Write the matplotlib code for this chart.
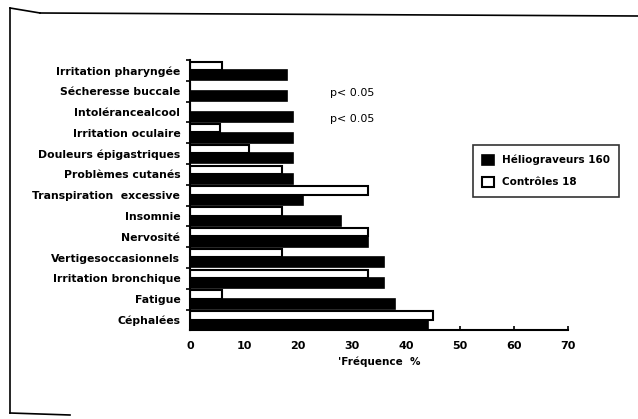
import numpy as np
import matplotlib
matplotlib.use("Agg")
from matplotlib import pyplot as plt
from matplotlib.lines import Line2D

# symptoms, bottom to top
symptoms = ["Céphalées", "Fatigue", "Irritation bronchique", "Vertigesoccasionnels",
            "Nervosité", "Insomnie", "Transpiration  excessive", "Problèmes cutanés",
            "Douleurs épigastriques", "Irritation oculaire", "Intolérancealcool",
            "Sécheresse buccale", "Irritation pharyngée"]
heliograveurs = [44, 38, 36, 36, 33, 28, 21, 19, 19, 19, 19, 18, 18]
controles = [45, 6, 33, 17, 33, 17, 33, 17, 11, 5.5, 0, 0, 6]
xticks = [0, 10, 20, 30, 40, 50, 60, 70]

plt.rcParams['font.family'] = ['DejaVu Sans']

fig = plt.figure(figsize=(6.38, 4.19), dpi=100)
ax = fig.add_axes([190/638, 1 - 330/419, 378/638, 270/419])

y = np.arange(len(symptoms))
hb = ax.barh(y - 0.23, heliograveurs, height=0.48, color='black', edgecolor='black', linewidth=1.2)
hc = ax.barh(y + 0.22, controles, height=0.40, color='white', edgecolor='black', linewidth=1.5)

ax.set_xlim(0, 70)
ax.set_ylim(-0.48, len(symptoms) - 0.5)
ax.set_yticks(y)
ax.set_yticklabels(symptoms, fontsize=7.8, fontweight='bold')
ax.set_yticks(np.arange(len(symptoms)) + 0.5, minor=True)
ax.tick_params(axis='y', which='major', length=0, pad=7)
ax.tick_params(axis='y', which='minor', length=3, width=1.2, direction='out')
ax.set_xticks(xticks)
ax.set_xticklabels([str(t) for t in xticks], fontsize=8, fontweight='bold')
ax.tick_params(axis='x', length=3, width=1.2, direction='in', pad=8)
ax.set_xlabel("'Fréquence  %", fontsize=7.5, fontweight='bold', labelpad=4)

for s in ['top', 'right']:
    ax.spines[s].set_visible(False)
ax.spines['left'].set_linewidth(1.5)
ax.spines['bottom'].set_linewidth(1.5)

fig.text(330/638, 1 - 93/419, "p< 0.05", fontsize=8, va='center')
fig.text(330/638, 1 - 119/419, "p< 0.05", fontsize=8, va='center')

leg = fig.legend([hb, hc], ["Héliograveurs 160", "Contrôles 18"], loc='center',
                 bbox_to_anchor=(546/638, 1 - 171/419), frameon=True, fancybox=False,
                 edgecolor='black', fontsize=7.5, handlelength=1.1, handleheight=1.1,
                 labelspacing=1.1, borderpad=0.9)
leg.get_frame().set_linewidth(1.2)
for t in leg.get_texts():
    t.set_fontweight('bold')

# hand-drawn frame around the figure
def px(xp, yp):
    return xp / 638, 1 - yp / 419

for (x0, y0), (x1, y1) in [((10, 8), (10, 413)), ((10, 8), (40, 13)), ((40, 13), (638, 16)),
                           ((10, 413), (70, 415))]:
    a, b = px(x0, y0)
    c, d = px(x1, y1)
    fig.add_artist(Line2D([a, c], [b, d], color='black', linewidth=1.2))

fig.savefig('out.png', dpi=100)
